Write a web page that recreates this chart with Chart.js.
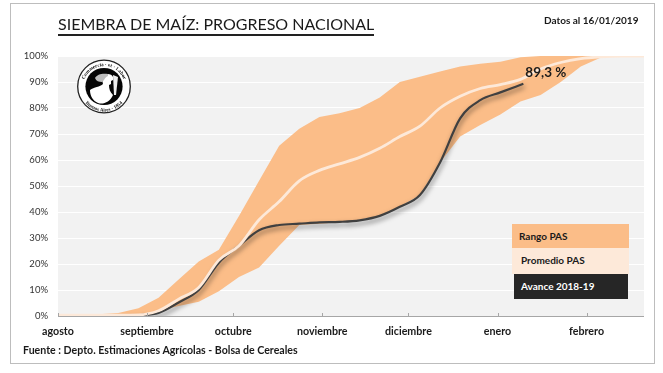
<!DOCTYPE html>
<html>
<head>
<meta charset="utf-8">
<script src="https://cdn.jsdelivr.net/npm/chart.js@4"></script>
<style>
  html, body { margin: 0; padding: 0; background: #fff; }
  #wrap { position: relative; width: 663px; height: 373px; overflow: hidden; font-family: Lato, sans-serif; color: #1a1a1a; }
  #frame { position: absolute; left: 10px; top: 3px; width: 643px; height: 359px; border: 1px solid #bdbdbd; }
  canvas { position: absolute; left: 0; top: 0; }
  .txt { position: absolute; white-space: nowrap; }
  #title { left: 58px; top: 14px; font-size: 16px; line-height: 19px; padding-bottom: 1px; border-bottom: 2px solid #222; }
  #dated { left: 544px; top: 14px; font-size: 10px; font-weight: 700; }
  #source { left: 23px; top: 344px; font-size: 10.6px; font-weight: 700; }
  .leg { position: absolute; font-size: 10px; font-weight: 700; line-height: 25px; box-sizing: border-box; }
  #logo { position: absolute; left: 76px; top: 59px; }
  #logo text { font-family: "Liberation Serif", serif; font-size: 5px; font-weight: 700; fill: #111; }
</style>
</head>
<body>
<div id="wrap">
  <div id="frame"></div>
  <canvas id="chart" width="663" height="373"></canvas>
  <div class="txt" id="title">SIEMBRA DE MAÍZ: PROGRESO NACIONAL</div>
  <div class="txt" id="dated">Datos al 16/01/2019</div>
  <div class="txt" id="source">Fuente : Depto. Estimaciones Agrícolas - Bolsa de Cereales</div>
  <svg id="logo" width="56" height="56" viewBox="0 0 56 56">
    <defs>
      <path id="arcTop" d="M7 28 A21 21 0 0 1 49 28"/>
      <path id="arcBot" d="M3.5 28 A24.5 24.5 0 0 0 52.5 28"/>
    </defs>
    <circle cx="28" cy="27.5" r="26.3" fill="#fff" stroke="#222" stroke-width="1.3"/>
    <circle cx="28" cy="27.5" r="18.6" fill="#060606"/>
    <text><textPath href="#arcTop" startOffset="50%" text-anchor="middle">Commercia · et · Labor</textPath></text>
    <text><textPath href="#arcBot" startOffset="50%" text-anchor="middle">Buenos Aires · 1854</textPath></text>
    <path d="M14 31 C18 28 24 28 27 25 C26 22 26 18 28 16 C31 14 36 15 37 18 L37 21 L35 22 L35 25 L33 26 C33 30 34 33 37 36 C34 43 27 46 22 44 C17 42 14 37 14 31 Z" fill="#fff"/>
    <path d="M19 19 C21 15 27 14 32 15 L32 17 C29 18 28 22 26 23 C23 23 20 22 19 19 Z" fill="#bdbdbd"/>
    <path d="M37 16 L42 18 L40 36 L38 36 Z" fill="#eee"/>
  </svg>
  <div class="leg" style="left:512px;top:224px;width:117px;height:24px;background:#fbbd88;padding-left:7px;">Rango PAS</div>
  <div class="leg" style="left:512px;top:248px;width:117px;height:26px;background:#fde9d9;padding-left:9px;">Promedio PAS</div>
  <div class="leg" style="left:514px;top:274px;width:114px;height:25px;background:#262626;color:#fff;padding-left:7px;">Avance 2018-19</div>
</div>
<script>
// days counted from 1 August
const weekDays = [0,7,14,21,28,35,42,49,56,63,70,77,84,91,98,105,112,119,126,133,140,147,154,161,168,175,182,189,196,204];
const rangeHigh = [0.6,0.6,0.7,1.2,3,7,14,21,25.5,38.5,52,65.5,72,76.5,78,80,84,90,92,94,96,97,97.8,99.5,100,100,100,100,100,100];
const rangeLow = [0.1,0.1,0.1,0.1,0.2,2,3.8,5.5,9.5,15,18.7,27,35,35.5,36,37,38.5,42,46.5,59,69,73.5,77.5,82.5,85,90,96,99.4,100,100];
const meanPas = [0.3,0.3,0.3,0.3,0.4,2,6.5,11,21.5,27,37,44,52,56,58.5,61,64.5,69,73,80,84.5,87.5,89,91,95,97.5,99,99.7,100,100];
const progressDays = [21,28,35,42,49,56,63,70,77,84,91,98,105,112,119,126,133,140,147,154,162];
const progress = [0,0.3,1.2,5.2,10,20.5,27,33,35,35.5,36,36.2,36.8,38.5,42,46.5,59,76,83,86,89.3];
const monthDays = [0,31,61,92,122,153,184];
const monthNames = ['agosto','septiembre','octubre','noviembre','diciembre','enero','febrero'];
const yTicks = [0,10,20,30,40,50,60,70,80,90,100];
const lastLabel = '89,3 %';

const toPoints = (xs, ys) => xs.map((x, i) => ({ x: x, y: ys[i] }));

const plotBack = {
  id: 'plotBack',
  beforeDraw(chart) {
    const a = chart.chartArea, c = chart.ctx;
    c.save();
    c.fillStyle = '#f2f2f2';
    c.fillRect(a.left, a.top, a.right - a.left, a.bottom - a.top);
    c.restore();
  }
};

// soft shadow under the progress line, and the end label
const progressExtras = {
  id: 'progressExtras',
  beforeDatasetDraw(chart, args) {
    if (args.index === 1) {
      const c = chart.ctx;
      c.save();
      c.shadowColor = 'rgba(0,0,0,0.55)';
      c.shadowBlur = 5;
      c.shadowOffsetX = 1;
      c.shadowOffsetY = 3;
    }
  },
  afterDatasetDraw(chart, args) {
    if (args.index === 1) chart.ctx.restore();
  },
  afterDatasetsDraw(chart) {
    const pts = chart.getDatasetMeta(1).data;
    const p = pts[pts.length - 1];
    const c = chart.ctx;
    c.save();
    c.font = '700 13.5px Lato';
    c.fillStyle = '#1a1a1a';
    c.textBaseline = 'middle';
    c.fillText(lastLabel, p.x + 2, p.y - 11);
    c.restore();
  }
};

new Chart(document.getElementById('chart').getContext('2d'), {
  type: 'line',
  data: {
    datasets: [
      { label: 'Promedio PAS', data: toPoints(weekDays, meanPas), borderColor: '#fde9d9', borderWidth: 2.8, cubicInterpolationMode: 'monotone', order: 1, fill: false },
      { label: 'Avance 2018-19', data: toPoints(progressDays, progress), borderColor: '#404040', borderWidth: 2.2, cubicInterpolationMode: 'monotone', order: 2, fill: false },
      { label: 'Rango alto', data: toPoints(weekDays, rangeHigh), borderWidth: 0, borderColor: 'transparent', backgroundColor: '#fbbd88', tension: 0, order: 3, fill: '+1' },
      { label: 'Rango bajo', data: toPoints(weekDays, rangeLow), borderWidth: 0, borderColor: 'transparent', tension: 0, order: 4, fill: false }
    ]
  },
  options: {
    responsive: false,
    animation: false,
    parsing: false,
    layout: { padding: { top: 56, right: 19, bottom: 0, left: 0 } },
    elements: { point: { radius: 0 } },
    plugins: { legend: { display: false }, tooltip: { enabled: false }, title: { display: false } },
    scales: {
      x: {
        type: 'linear',
        min: 0,
        max: 204,
        afterBuildTicks(s) { s.ticks = monthDays.map(v => ({ value: v })); },
        afterFit(s) { s.height = 57; s.paddingLeft = 0; s.paddingRight = 0; },
        grid: { display: false, drawTicks: false },
        border: { display: false },
        ticks: {
          autoSkip: false,
          maxRotation: 0,
          padding: 9,
          color: '#1a1a1a',
          font: { family: 'Lato', size: 10.7, weight: '700' },
          callback(v) { return monthNames[monthDays.indexOf(v)]; }
        }
      },
      y: {
        min: 0,
        max: 100,
        afterBuildTicks(s) { s.ticks = yTicks.map(v => ({ value: v })); },
        afterFit(s) { s.width = 58; },
        grid: { color: '#ffffff', lineWidth: 1, drawTicks: false },
        border: { display: false },
        ticks: {
          padding: 10,
          color: '#333',
          font: { family: 'Lato', size: 9.5 },
          callback(v) { return v + '%'; }
        }
      }
    }
  },
  plugins: [plotBack, progressExtras, {
    id: 'baseAxis',
    afterDraw(chart) {
      const a = chart.chartArea, c = chart.ctx, x = chart.scales.x;
      c.save();
      c.strokeStyle = '#a6a6a6';
      c.lineWidth = 1;
      c.beginPath();
      c.moveTo(a.left, a.bottom + 0.5);
      c.lineTo(a.right, a.bottom + 0.5);
      monthDays.forEach(d => {
        const px = Math.round(x.getPixelForValue(d)) + 0.5;
        c.moveTo(px, a.bottom - 3);
        c.lineTo(px, a.bottom + 0.5);
      });
      c.stroke();
      c.restore();
    }
  }]
});
</script>
</body>
</html>
